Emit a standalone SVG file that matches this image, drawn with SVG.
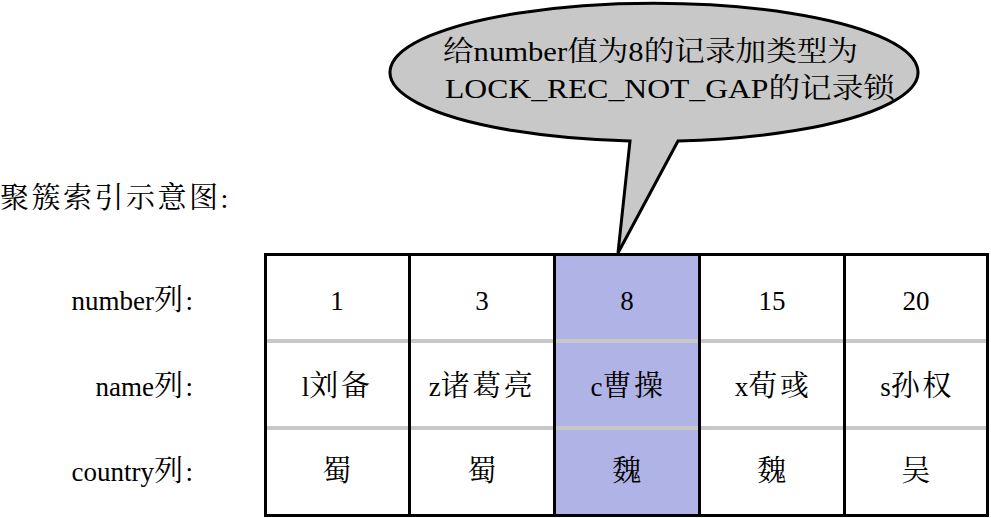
<svg xmlns="http://www.w3.org/2000/svg" width="991" height="518" viewBox="0 0 991 518" font-family="Liberation Serif, serif">
<style>
.k{font-size:29px;letter-spacing:2.5px}
.k2{font-size:28px}
.c{font-size:27px;text-anchor:middle}
.l{font-size:27px;text-anchor:end}
.t{font-size:28px}
.v{stroke:#000;stroke-width:3}
.h{stroke:#c8c8c8;stroke-width:4}
</style>
<rect width="991" height="518" fill="#fff"/>
<text class="t" x="0" y="208"><tspan class="k" font-family="Noto Serif CJK SC, Noto Sans CJK SC, serif">聚簇索引示意图</tspan><tspan font-family="Liberation Serif">:</tspan></text>
<g id="labels">
<text class="l" x="193" y="310"><tspan font-family="Liberation Serif">number</tspan><tspan class="k" font-family="Noto Serif CJK SC, Noto Sans CJK SC, serif">列</tspan><tspan font-family="Liberation Serif">:</tspan></text>
<text class="l" x="193" y="396"><tspan font-family="Liberation Serif">name</tspan><tspan class="k" font-family="Noto Serif CJK SC, Noto Sans CJK SC, serif">列</tspan><tspan font-family="Liberation Serif">:</tspan></text>
<text class="l" x="193" y="481"><tspan font-family="Liberation Serif">country</tspan><tspan class="k" font-family="Noto Serif CJK SC, Noto Sans CJK SC, serif">列</tspan><tspan font-family="Liberation Serif">:</tspan></text>
</g>
<g id="table">
<rect x="265" y="254" width="723" height="262" fill="#fff"/>
<rect x="554" y="254" width="145" height="262" fill="#b0b3e6"/>
<line class="h" x1="265" y1="341" x2="988" y2="341"/>
<line class="h" x1="265" y1="428" x2="988" y2="428"/>
<line class="v" x1="409.5" y1="254" x2="409.5" y2="516"/>
<line class="v" x1="554.5" y1="254" x2="554.5" y2="516"/>
<line class="v" x1="699.5" y1="254" x2="699.5" y2="516"/>
<line class="v" x1="844.5" y1="254" x2="844.5" y2="516"/>
<rect x="265.5" y="254.5" width="722" height="261" fill="none" stroke="#000" stroke-width="3"/>
</g>
<g id="col1"><text class="c" x="337" y="310" font-family="Liberation Serif">1</text><text class="c" x="337" y="396"><tspan font-family="Liberation Serif">l</tspan><tspan class="k" font-family="Noto Serif CJK SC, Noto Sans CJK SC, serif">刘备</tspan></text><text class="c" x="338" y="481"><tspan class="k" font-family="Noto Serif CJK SC, Noto Sans CJK SC, serif">蜀</tspan></text></g>
<g id="col2"><text class="c" x="482" y="310" font-family="Liberation Serif">3</text><text class="c" x="482" y="396"><tspan font-family="Liberation Serif">z</tspan><tspan class="k" font-family="Noto Serif CJK SC, Noto Sans CJK SC, serif">诸葛亮</tspan></text><text class="c" x="483" y="481"><tspan class="k" font-family="Noto Serif CJK SC, Noto Sans CJK SC, serif">蜀</tspan></text></g>
<g id="col3"><text class="c" x="627" y="310" font-family="Liberation Serif">8</text><text class="c" x="628" y="396"><tspan font-family="Liberation Serif">c</tspan><tspan class="k" font-family="Noto Serif CJK SC, Noto Sans CJK SC, serif">曹操</tspan></text><text class="c" x="628" y="481"><tspan class="k" font-family="Noto Serif CJK SC, Noto Sans CJK SC, serif">魏</tspan></text></g>
<g id="col4"><text class="c" x="772" y="310" font-family="Liberation Serif">15</text><text class="c" x="773" y="396"><tspan font-family="Liberation Serif">x</tspan><tspan class="k" font-family="Noto Serif CJK SC, Noto Sans CJK SC, serif">荀彧</tspan></text><text class="c" x="773" y="481"><tspan class="k" font-family="Noto Serif CJK SC, Noto Sans CJK SC, serif">魏</tspan></text></g>
<g id="col5"><text class="c" x="916" y="310" font-family="Liberation Serif">20</text><text class="c" x="917" y="396"><tspan font-family="Liberation Serif">s</tspan><tspan class="k" font-family="Noto Serif CJK SC, Noto Sans CJK SC, serif">孙权</tspan></text><text class="c" x="917" y="481"><tspan class="k" font-family="Noto Serif CJK SC, Noto Sans CJK SC, serif">吴</tspan></text></g>
<g id="callout">
<path d="M630,141 A264,69 0 1,1 678,141 L618,253 Z" fill="#c8c8c8" stroke="#000" stroke-width="3" stroke-linejoin="miter"/>
<text class="t" x="443" y="61" textLength="415" lengthAdjust="spacingAndGlyphs"><tspan class="k2" font-family="Noto Serif CJK SC, Noto Sans CJK SC, serif">给</tspan><tspan font-family="Liberation Serif">number</tspan><tspan class="k2" font-family="Noto Serif CJK SC, Noto Sans CJK SC, serif">值为</tspan><tspan font-family="Liberation Serif">8</tspan><tspan class="k2" font-family="Noto Serif CJK SC, Noto Sans CJK SC, serif">的记录加类型为</tspan></text>
<text class="t" x="445" y="98" textLength="450" lengthAdjust="spacingAndGlyphs"><tspan font-family="Liberation Serif">LOCK_REC_NOT_GAP</tspan><tspan class="k2" font-family="Noto Serif CJK SC, Noto Sans CJK SC, serif">的记录锁</tspan></text>
</g>
</svg>
